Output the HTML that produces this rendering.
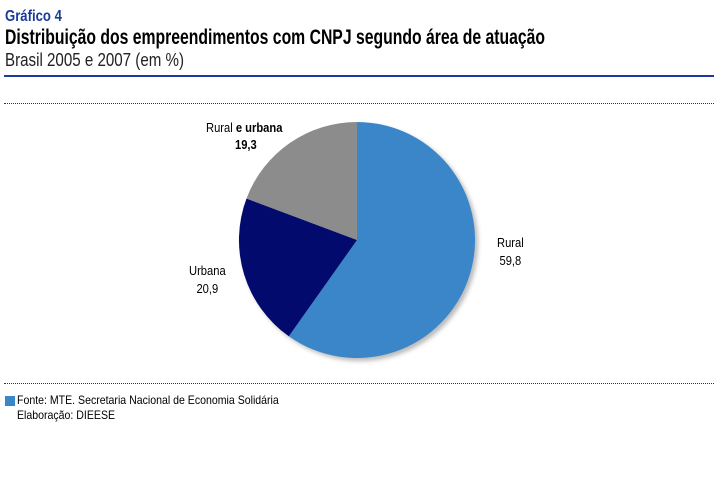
<!DOCTYPE html>
<html><head><meta charset="utf-8"><style>
body{margin:0;background:#fff;width:721px;height:488px;overflow:hidden;font-family:"Liberation Sans",sans-serif;}
.t{position:absolute;white-space:nowrap;transform-origin:0 0;}
</style></head><body>
<div class="t" style="left:5px;top:8px;font-size:16px;font-weight:bold;color:#1b3a99;transform:scaleX(0.82);">Gráfico 4</div>
<div class="t" style="left:5px;top:26px;font-size:21px;font-weight:bold;color:#000;transform:scaleX(0.75);">Distribuição dos empreendimentos com CNPJ segundo área de atuação</div>
<div class="t" style="left:5px;top:50px;font-size:18px;color:#222;transform:scaleX(0.84);">Brasil 2005 e 2007 (em %)</div>
<div style="position:absolute;left:4px;top:75px;width:710px;height:2px;background:#1b3a99;"></div>
<div style="position:absolute;left:4px;top:103px;width:710px;border-top:1px dotted #333;"></div>
<div style="position:absolute;left:4px;top:383px;width:710px;border-top:1px dotted #333;"></div>
<svg style="position:absolute;left:0;top:0" width="721" height="488">
<defs><filter id="s" x="-20%" y="-20%" width="140%" height="140%"><feGaussianBlur stdDeviation="2"/></filter></defs>
<circle cx="360" cy="243" r="118" fill="#bbb" filter="url(#s)"/>
<path d="M357 240 L357 122 A118 118 0 1 1 288.8 336.3 Z" fill="#3a86c8"/>
<path d="M357 240 L288.8 336.3 A118 118 0 0 1 246.5 198.5 Z" fill="#020a6e"/>
<path d="M357 240 L246.5 198.5 A118 118 0 0 1 357 122 Z" fill="#8c8c8c"/>
</svg>
<div class="t" style="left:206px;top:120px;font-size:13px;color:#000;transform:scaleX(0.86);">Rural <b>e urbana</b></div>
<div class="t" style="left:235px;top:137px;font-size:13px;font-weight:bold;color:#000;transform:scaleX(0.86);">19,3</div>
<div class="t" style="left:497px;top:234px;font-size:13px;color:#000;text-align:center;line-height:18px;transform:scaleX(0.86);">Rural<br>59,8</div>
<div class="t" style="left:189px;top:262px;font-size:13px;color:#000;text-align:center;line-height:18px;transform:scaleX(0.86);">Urbana<br>20,9</div>
<div style="position:absolute;left:5px;top:396px;width:10px;height:10px;background:#3a86c8;"></div>
<div class="t" style="left:17px;top:393px;font-size:12px;color:#000;line-height:15px;transform:scaleX(0.88);">Fonte: MTE. Secretaria Nacional de Economia Solidária<br>Elaboração: DIEESE</div>
</body></html>
